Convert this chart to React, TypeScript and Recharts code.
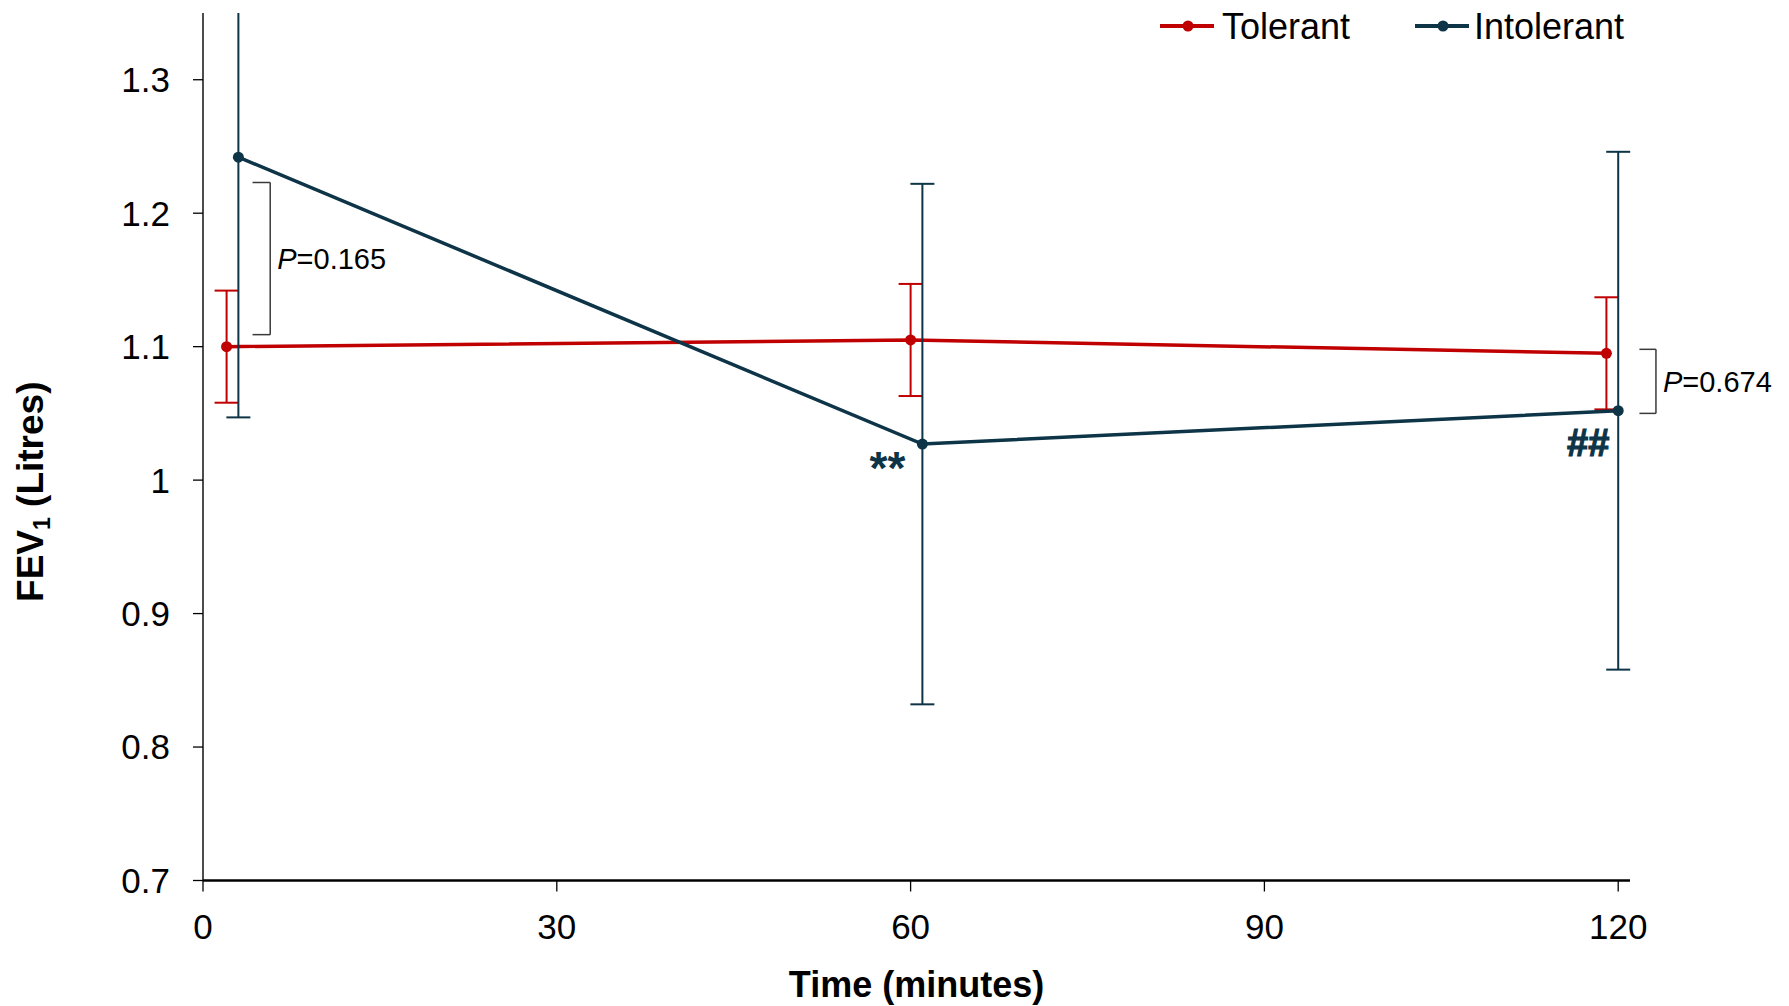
import React from "react";
import {
  ErrorBar,
  LabelList,
  Line,
  LineChart,
  ReferenceLine,
  XAxis,
  YAxis,
} from "recharts";

const FONT = '"Liberation Sans", Arial, sans-serif';
const RED = "#C00000";
const NAVY = "#0D3447";

const seriesNames = ["Tolerant", "Intolerant"];
const seriesColors = [RED, NAVY];

// time (minutes) is offset slightly per group so the error bars don't overlap
const tolerantTime = [2, 60, 119];
const tolerantMean = [1.1, 1.105, 1.095];
const tolerantSem = [0.042, 0.042, 0.042];

const intolerantTime = [3, 61, 120];
const intolerantMean = [1.242, 1.027, 1.052];
const intolerantSem = [0.195, 0.195, 0.194];
const intolerantMarks = ["", "**", "##"];

const xTicks = [0, 30, 60, 90, 120];
const yTicks = [0.7, 0.8, 0.9, 1, 1.1, 1.2, 1.3];

// between-group comparisons: "]" brackets with P values
const pValues = ["0.165", "0.674"];
const pBracketX = [
  [4.2, 5.7],
  [121.8, 123.2],
];
const pBracketY = [
  [1.109, 1.223],
  [1.05, 1.098],
];

const tolerantRows = tolerantTime.map((t, i) => ({
  time: t,
  fev: tolerantMean[i],
  err: tolerantSem[i],
}));
const intolerantRows = intolerantTime.map((t, i) => ({
  time: t,
  fev: intolerantMean[i],
  err: intolerantSem[i],
  mark: intolerantMarks[i],
}));

const PLOT_TOP = 13;

const markStyle: Record<string, { dx: number; dy: number; size: number; sw: number }> = {
  "**": { dx: -35, dy: 40, size: 46, sw: 0 },
  "##": { dx: -30, dy: 45, size: 38, sw: 1.2 },
};

function MarkLabel(props: any) {
  const { x, y, value } = props;
  if (!value) return null;
  const s = markStyle[value];
  return (
    <text
      x={x + s.dx}
      y={y + s.dy}
      textAnchor="middle"
      fontFamily={FONT}
      fontWeight="bold"
      fontSize={s.size}
      fill={NAVY}
      stroke={NAVY}
      strokeWidth={s.sw}
    >
      {value}
    </text>
  );
}

function PLabel(props: any) {
  const vb = props.viewBox || {};
  const x = vb.x1 != null ? Math.max(vb.x1, vb.x2) : vb.x + (vb.width || 0);
  const yTop = vb.y1 != null ? Math.min(vb.y1, vb.y2) : vb.y;
  const h = vb.y1 != null ? Math.abs(vb.y2 - vb.y1) : vb.height || 0;
  return (
    <text
      x={x + 7}
      y={yTop + h / 2}
      dy="0.36em"
      fontFamily={FONT}
      fontSize={29}
      fill="#000"
    >
      <tspan fontStyle="italic">P</tspan>
      <tspan>={props.text}</tspan>
    </text>
  );
}

function XTitle(props: any) {
  const vb = props.viewBox;
  return (
    <text
      x={vb.x + vb.width / 2}
      y={vb.y + 116.5}
      textAnchor="middle"
      fontFamily={FONT}
      fontWeight="bold"
      fontSize={36}
      fill="#000"
    >
      Time (minutes)
    </text>
  );
}

function YTitle(props: any) {
  const vb = props.viewBox;
  const cx = 43;
  const cy = vb.y + vb.height / 2 + 45;
  return (
    <text
      x={cx}
      y={cy}
      textAnchor="middle"
      transform={`rotate(-90, ${cx}, ${cy})`}
      fontFamily={FONT}
      fontWeight="bold"
      fontSize={37}
      fill="#000"
    >
      FEV
      <tspan fontSize={23} dy={7}>
        1
      </tspan>
      <tspan dy={-7}> (Litres)</tspan>
    </text>
  );
}

function LegendOverlay() {
  const items = [
    { x: 1160, textX: 1222 },
    { x: 1415, textX: 1474 },
  ];
  return (
    <svg
      width={1789}
      height={60}
      style={{ position: "absolute", top: 0, left: 0, pointerEvents: "none" }}
    >
      {seriesNames.map((name, i) => (
        <g key={name}>
          <line
            x1={items[i].x}
            x2={items[i].x + 54}
            y1={26}
            y2={26}
            stroke={seriesColors[i]}
            strokeWidth={4}
          />
          <circle cx={items[i].x + 28} cy={26} r={5.5} fill={seriesColors[i]} />
          <text
            x={items[i].textX}
            y={39}
            fontFamily={FONT}
            fontSize={36}
            fill="#000"
          >
            {name}
          </text>
        </g>
      ))}
    </svg>
  );
}

export default function App() {
  return (
    <div
      style={{
        position: "absolute",
        top: 0,
        left: 0,
        width: 1789,
        height: 1006,
        background: "#fff",
      }}
    >
      {/* error bars that run past the top of the y range are cut at the plot edge */}
      <style>{`.recharts-errorBars { clip-path: url(#fev-plot-clip); }`}</style>
      <svg width={0} height={0} style={{ position: "absolute" }}>
        <defs>
          <clipPath id="fev-plot-clip" clipPathUnits="userSpaceOnUse">
            <rect x={0} y={PLOT_TOP} width={1789} height={1006 - PLOT_TOP} />
          </clipPath>
        </defs>
      </svg>
      <LineChart
        width={1789}
        height={1006}
        margin={{ top: PLOT_TOP, right: 159, bottom: 25, left: 0 }}
      >
        <XAxis
          type="number"
          dataKey="time"
          domain={[0, 121]}
          ticks={xTicks}
          allowDataOverflow
          height={100.5}
          tickSize={11}
          tickMargin={23}
          axisLine={{ stroke: "#000", strokeWidth: 2.5 }}
          tickLine={{ stroke: "#000", strokeWidth: 1.3 }}
          tick={{ fontSize: 35, fill: "#000", fontFamily: FONT }}
          label={{ content: XTitle }}
        />
        <YAxis
          type="number"
          domain={[0.7, 1.35]}
          ticks={yTicks}
          allowDataOverflow
          width={203}
          tickSize={10}
          tickMargin={23}
          tickFormatter={(v: number) => (v === 1 ? "1" : v.toFixed(1))}
          axisLine={{ stroke: "#000", strokeWidth: 1.4 }}
          tickLine={{ stroke: "#000", strokeWidth: 1.3 }}
          tick={{ fontSize: 35, fill: "#000", fontFamily: FONT }}
          label={{ content: YTitle }}
        />

        {pValues.map((p, i) => {
          const [x0, x1] = pBracketX[i];
          const [y0, y1] = pBracketY[i];
          const st = { stroke: "#3a3a3a", strokeWidth: 1.5 };
          return [
            <ReferenceLine
              key={`t${i}`}
              segment={[
                { x: x0, y: y1 },
                { x: x1, y: y1 },
              ]}
              ifOverflow="visible"
              {...st}
            />,
            <ReferenceLine
              key={`b${i}`}
              segment={[
                { x: x0, y: y0 },
                { x: x1, y: y0 },
              ]}
              ifOverflow="visible"
              {...st}
            />,
            <ReferenceLine
              key={`v${i}`}
              segment={[
                { x: x1, y: y0 },
                { x: x1, y: y1 },
              ]}
              ifOverflow="visible"
              {...st}
              label={<PLabel text={p} />}
            />,
          ];
        })}

        <Line
          data={tolerantRows}
          dataKey="fev"
          name={seriesNames[0]}
          type="linear"
          stroke={RED}
          strokeWidth={3.5}
          dot={{ r: 5.5, fill: RED, stroke: RED, strokeWidth: 0 }}
          activeDot={false}
          isAnimationActive={false}
        >
          <ErrorBar
            dataKey="err"
            direction="y"
            width={12}
            strokeWidth={2}
            stroke={RED}
            isAnimationActive={false}
          />
        </Line>
        <Line
          data={intolerantRows}
          dataKey="fev"
          name={seriesNames[1]}
          type="linear"
          stroke={NAVY}
          strokeWidth={3.5}
          dot={{ r: 5.5, fill: NAVY, stroke: NAVY, strokeWidth: 0 }}
          activeDot={false}
          isAnimationActive={false}
        >
          <ErrorBar
            dataKey="err"
            direction="y"
            width={12}
            strokeWidth={2}
            stroke={NAVY}
            isAnimationActive={false}
          />
          <LabelList dataKey="mark" content={MarkLabel} />
        </Line>
      </LineChart>
      <LegendOverlay />
    </div>
  );
}
